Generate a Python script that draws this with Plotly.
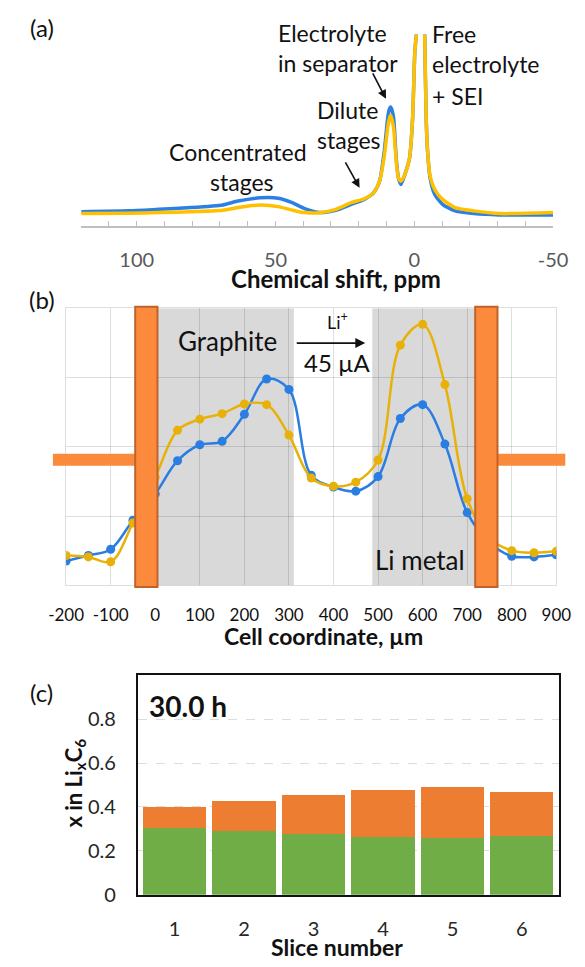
import plotly.graph_objects as go

W, H = 585, 967
FONT = "Lato"

# ---------------- (a) 7Li NMR spectrum ----------------
ppm = [120, 103, 92, 80.5, 69, 63.5, 55.5, 49, 44, 39.5, 34, 28.3, 22.7, 18, 14.7,
       12.5, 10.8, 9.6, 9.1, 8.5, 8.0, 7.4, 6.5, 5.7, 4.8, 3.4, 1.7, 0.6, -0.2,
       -1.0, -2.4, -3.7, -4.3, -4.8, -5.7, -7.4, -10.2, -14.7, -21.5, -30.6, -50]
spec_blue = [0.077, 0.081, 0.089, 0.098, 0.112, 0.132, 0.149, 0.147, 0.124, 0.093, 0.072,
             0.084, 0.115, 0.141, 0.175, 0.236, 0.392, 0.562, 0.605, 0.622, 0.605, 0.562,
             0.356, 0.253, 0.218, 0.270, 0.356, 0.562, 0.907, 1.05, 2.0, 1.05, 0.562,
             0.392, 0.253, 0.166, 0.115, 0.081, 0.067, 0.060, 0.060]
spec_yellow = [0.067, 0.069, 0.072, 0.076, 0.084, 0.098, 0.111, 0.103, 0.085, 0.072, 0.071,
               0.089, 0.124, 0.144, 0.175, 0.236, 0.366, 0.510, 0.555, 0.579, 0.555, 0.510,
               0.340, 0.253, 0.236, 0.270, 0.356, 0.562, 0.907, 1.05, 2.0, 1.05, 0.562,
               0.392, 0.263, 0.192, 0.141, 0.098, 0.081, 0.067, 0.072]
a_tickvals = [100, 50, 0, -50]
a_ticktext = ["100", "50", "0", "-50"]

# ---------------- (b) profiles across the cell ----------------
coord = [-200, -150, -100, -50, 0, 50, 100, 150, 200, 250, 300, 350, 400, 450,
         500, 550, 600, 650, 700, 750, 800, 850, 900]
prof_blue = [0.35, 0.43, 0.52, 0.94, 1.32, 1.80, 2.03, 2.08, 2.47, 2.98, 2.83, 1.59,
             1.42, 1.36, 1.57, 2.41, 2.61, 2.04, 1.05, 0.62, 0.42, 0.41, 0.44]
prof_yellow = [0.43, 0.41, 0.34, 0.90, 1.56, 2.24, 2.40, 2.48, 2.62, 2.61, 2.17, 1.55,
               1.43, 1.49, 1.81, 3.47, 3.77, 2.90, 1.25, 0.68, 0.50, 0.47, 0.49]
b_tickvals = [-200, -100, 0, 100, 200, 300, 400, 500, 600, 700, 800, 900]
b_ticktext = ["-200", "-100", "0", "100", "200", "300", "400", "500", "600", "700", "800", "900"]
graphite_region = [5, 311]
li_region = [487, 718]
collector_left = [-45, 5]
collector_right = [718, 768]

# ---------------- (c) stacked bars ----------------
slices = [1, 2, 3, 4, 5, 6]
x_green = [0.304, 0.290, 0.275, 0.265, 0.257, 0.268]
x_orange = [0.094, 0.137, 0.181, 0.212, 0.235, 0.201]
c_ticks = [0, 0.2, 0.4, 0.6, 0.8]
c_ticktext = ["0", "0.2", "0.4", "0.6", "0.8"]

BLUE_A = "#2b80e6"
YEL_A = "#ffc000"
BLUE_B = "#2a7de1"
YEL_B = "#e8b10a"
ORANGE = "#fb8a3c"
ORANGE_EDGE = "#c0622a"


def px(x):
    return x / W


def py(y):
    return 1 - y / H


fig = go.Figure()

# (a)
fig.add_trace(go.Scatter(x=ppm, y=spec_blue, mode="lines", xaxis="x", yaxis="y",
                         line=dict(color=BLUE_A, width=3.5, shape="spline", smoothing=0.6),
                         showlegend=False))
fig.add_trace(go.Scatter(x=ppm, y=spec_yellow, mode="lines", xaxis="x", yaxis="y",
                         line=dict(color=YEL_A, width=3.5, shape="spline", smoothing=0.6),
                         showlegend=False))

# (b)
fig.add_trace(go.Scatter(x=coord, y=prof_blue, mode="lines+markers", xaxis="x2", yaxis="y2",
                         line=dict(color=BLUE_B, width=2.5, shape="spline", smoothing=1),
                         marker=dict(color=BLUE_B, size=9), showlegend=False))
fig.add_trace(go.Scatter(x=coord, y=prof_yellow, mode="lines+markers", xaxis="x2", yaxis="y2",
                         line=dict(color=YEL_B, width=2.5, shape="spline", smoothing=1),
                         marker=dict(color=YEL_B, size=9), showlegend=False))

# (c)
fig.add_trace(go.Bar(x=slices, y=x_green, xaxis="x3", yaxis="y3", marker_color="#70ad47",
                     marker_line_width=0, showlegend=False))
fig.add_trace(go.Bar(x=slices, y=x_orange, xaxis="x3", yaxis="y3", marker_color="#ed7d31",
                     marker_line_width=0, showlegend=False))

shapes = []
# gray regions (b)
for reg in (graphite_region, li_region):
    shapes.append(dict(type="rect", xref="x2", yref="y2 domain", x0=reg[0], x1=reg[1],
                       y0=0, y1=1, fillcolor="#d9d9d9", line=dict(width=0), layer="below"))
# orange stubs (outside the plot, paper refs)
shapes.append(dict(type="rect", xref="paper", yref="y2 domain", x0=px(37), x1=px(126),
                   y0=0.432, y1=0.475, fillcolor=ORANGE, line=dict(width=0), layer="above"))
shapes.append(dict(type="rect", xref="paper", yref="y2 domain", x0=px(507), x1=px(580),
                   y0=0.432, y1=0.475, fillcolor=ORANGE, line=dict(width=0), layer="above"))
# current collectors
for reg in (collector_left, collector_right):
    shapes.append(dict(type="rect", xref="x2", yref="y2 domain", x0=reg[0], x1=reg[1],
                       y0=-0.006, y1=1.006, fillcolor=ORANGE,
                       line=dict(color=ORANGE_EDGE, width=2), layer="above"))

ann = []


def text(x, y, s, size, anchor="center", bold=False, color="#111111", angle=0):
    if bold:
        s = "<b>" + s + "</b>"
    ann.append(dict(x=px(x), y=py(y), xref="paper", yref="paper", text=s, showarrow=False,
                    xanchor=anchor, yanchor="middle", textangle=angle,
                    font=dict(family=FONT, size=size, color=color)))


def arrow(x_head, y_head, x_tail, y_tail, width=1.6):
    ann.append(dict(x=px(x_head), y=py(y_head), xref="paper", yref="paper", text="",
                    showarrow=True, ax=x_tail - x_head, ay=y_tail - y_head,
                    arrowhead=2, arrowsize=1.1, arrowwidth=width, arrowcolor="#111111"))


# panel labels
text(25, 28, "(a)", 24)
text(25, 303, "(b)", 24)
text(25, 700, "(c)", 24)

# (a) annotations
text(273, 33, "Electrolyte", 23, anchor="left")
text(273, 64, "in separator", 23, anchor="left")
text(437, 34, "Free", 23, anchor="left")
text(437, 65, "electrolyte", 23, anchor="left")
text(437, 97, "+ SEI", 23, anchor="left")
text(315, 111, "Dilute", 23, anchor="left")
text(315, 142, "stages", 23, anchor="left")
text(233, 154, "Concentrated", 23)
text(237, 184, "stages", 23)
arrow(390, 100, 376, 73)
arrow(362, 190, 347, 163)
text(337, 282, "Chemical shift, ppm", 24, bold=True)

# (b) annotations
text(222, 345, "Graphite", 26)
text(339, 325, "Li<sup>+</sup>", 18)
arrow(368, 347, 298, 347, width=1.8)
text(339, 367, "45 µA", 24)
text(426, 566, "Li metal", 26)
text(324, 643, "Cell coordinate, µm", 23, bold=True)

# (c) annotations
text(137, 714, "30.0 h", 28, anchor="left", bold=True)
text(338, 958, "Slice number", 23, bold=True)
text(60, 792, "x in Li<sub>x</sub>C<sub>6</sub>", 22, bold=True, angle=-90)

GRID_B = "rgba(0,0,0,0.13)"

fig.update_layout(
    width=W, height=H, margin=dict(l=0, r=0, t=0, b=0),
    paper_bgcolor="white", plot_bgcolor="rgba(0,0,0,0)",
    font=dict(family=FONT, color="#111111"),
    barmode="stack", bargap=0.09,
    shapes=shapes, annotations=ann,
    xaxis=dict(domain=[px(67), px(567)], range=[120, -50], anchor="y",
               showline=True, linecolor="#bfbfbf", linewidth=1.5,
               ticks="inside", ticklen=6, tickcolor="#bfbfbf", tickwidth=1.2,
               tickvals=a_tickvals, ticktext=a_ticktext, showgrid=False, zeroline=False,
               minor=dict(tick0=0, dtick=10, ticks="inside", ticklen=6, tickcolor="#bfbfbf",
                          tickwidth=1.2, showgrid=False),
               tickfont=dict(family=FONT, size=20, color="#595959"),
               ticklabelstandoff=15),
    yaxis=dict(domain=[py(229), py(35)], range=[0, 1], visible=False, anchor="x"),
    xaxis2=dict(domain=[px(51), px(570.5)], range=[-200, 900], anchor="y2",
                tickvals=b_tickvals, ticktext=b_ticktext,
                showgrid=True, gridcolor=GRID_B, gridwidth=1,
                showline=True, mirror=True, linecolor=GRID_B, linewidth=1,
                zeroline=False, ticks="",
                tickfont=dict(family=FONT, size=17, color="#111111"),
                ticklabelstandoff=14),
    yaxis2=dict(domain=[py(592), py(312)], range=[0, 4], anchor="x2", dtick=1,
                showgrid=True, gridcolor=GRID_B, gridwidth=1, showticklabels=False,
                showline=True, mirror=True, linecolor=GRID_B, zeroline=False, ticks=""),
    xaxis3=dict(domain=[px(127), px(573)], range=[0.47, 6.53], anchor="y3",
                tickvals=slices, showline=True, mirror=True, linecolor="#111111",
                linewidth=2, ticks="", showgrid=False, zeroline=False,
                tickfont=dict(family=FONT, size=20, color="#262626"),
                ticklabelstandoff=15),
    yaxis3=dict(domain=[py(905), py(683)], range=[0, 1.0], anchor="x3",
                tickvals=c_ticks, ticktext=c_ticktext, showgrid=True,
                gridcolor="#dcdcdc", griddash="dash", gridwidth=1,
                showline=True, mirror=True, linecolor="#111111", linewidth=2,
                zeroline=False, ticks="",
                tickfont=dict(family=FONT, size=20, color="#262626"),
                ticklabelstandoff=16),
)

fig.write_html("out.html")
